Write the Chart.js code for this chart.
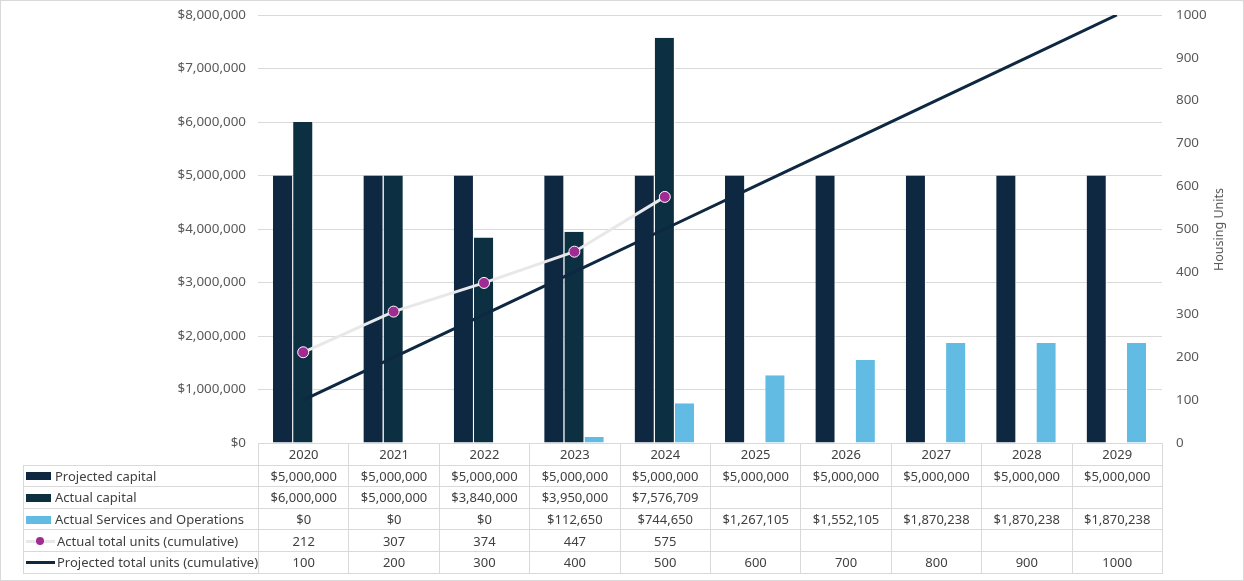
<!DOCTYPE html>
<html>
<head>
<meta charset="utf-8">
<script src="https://cdn.jsdelivr.net/npm/chart.js@4/dist/chart.umd.min.js"></script>
<style>
  html, body { margin:0; padding:0; background:#fff; }
  #wrap { position:relative; width:1244px; height:581px; overflow:hidden; font-family:"Noto Sans", sans-serif; }
  #frame { position:absolute; left:0; top:0; width:1242px; height:579px; border:1px solid #D9D9D9; pointer-events:none; }
  canvas { position:absolute; left:0; top:0; }
  #ytitle { position:absolute; font-size:12.5px; color:#595959; white-space:nowrap; transform-origin:center center; }
  table { position:absolute; border-collapse:collapse; font-size:13px; color:#404040; table-layout:fixed; }
  td { border:1px solid #D9D9D9; height:20.6px; padding:0; text-align:center; white-space:nowrap; overflow:hidden; }
  td.lab { text-align:left; padding-left:2px; }
  td.blank { border:none; }
  .sw { display:inline-block; width:25px; height:8px; vertical-align:middle; margin-right:4px; position:relative; top:-1px; }
  .ln { display:inline-block; width:29px; height:3px; vertical-align:middle; margin-right:2px; position:relative; top:-1px; }
  .dot { position:absolute; left:10px; top:-2.5px; width:8px; height:8px; border-radius:50%; background:#A02B93; }
</style>
</head>
<body>
<div id="wrap">
  <canvas id="c" width="1244" height="581"></canvas>
  <div id="ytitle">Housing Units</div>
  <table id="tbl"></table>
  <div id="frame"></div>
</div>
<script>
const categories = ["2020","2021","2022","2023","2024","2025","2026","2027","2028","2029"];
const projectedCapital = [5000000,5000000,5000000,5000000,5000000,5000000,5000000,5000000,5000000,5000000];
const actualCapital = [6000000,5000000,3840000,3950000,7576709,null,null,null,null,null];
const actualServices = [0,0,0,112650,744650,1267105,1552105,1870238,1870238,1870238];
const actualUnits = [212,307,374,447,575,null,null,null,null,null];
const projectedUnits = [100,200,300,400,500,600,700,800,900,1000];
const leftTicks = [0,1000000,2000000,3000000,4000000,5000000,6000000,7000000,8000000];
const rightTicks = [0,100,200,300,400,500,600,700,800,900,1000];

const C_PROJ = "#0E2841", C_ACT = "#0C3042", C_SVC = "#62BBE3", C_AUNITS = "#E8E8E8", C_MARK = "#A02B93";

const money = v => "$" + Math.round(v).toLocaleString("en-US");

const ctx = document.getElementById("c").getContext("2d");
const font = { family: "'Noto Sans', sans-serif", size: 13.4 };

const chart = new Chart(ctx, {
  data: {
    labels: categories,
    datasets: [
      { type:"line", label:"Actual total units (cumulative)", data: actualUnits, yAxisID:"y1",
        borderColor:C_AUNITS, borderWidth:3, pointRadius:5.5, pointBackgroundColor:C_MARK,
        pointBorderColor:"#ffffff", pointBorderWidth:1, order:0, spanGaps:false },
      { type:"line", label:"Projected total units (cumulative)", data: projectedUnits, yAxisID:"y1",
        borderColor:C_PROJ, borderWidth:3, pointRadius:0, order:1 },
      { type:"bar", label:"Projected capital", data: projectedCapital, yAxisID:"y",
        backgroundColor:C_PROJ, borderColor:"#ffffff", borderWidth:{left:0,right:1,top:0,bottom:0}, borderSkipped:false, order:2 },
      { type:"bar", label:"Actual capital", data: actualCapital, yAxisID:"y",
        backgroundColor:C_ACT, borderColor:"#ffffff", borderWidth:{left:0,right:1,top:0,bottom:0}, borderSkipped:false, order:3 },
      { type:"bar", label:"Actual Services and Operations", data: actualServices, yAxisID:"y",
        backgroundColor:C_SVC, borderColor:"#ffffff", borderWidth:{left:0,right:1,top:0,bottom:0}, borderSkipped:false, order:4 }
    ]
  },
  options: {
    responsive:false,
    animation:false,
    devicePixelRatio:1,
    layout:{ padding:{ top:15, bottom:138, left:0, right:0 } },
    datasets:{ bar:{ barPercentage:1.0, categoryPercentage:0.668 } },
    plugins:{ legend:{ display:false }, tooltip:{ enabled:false } },
    scales:{
      x:{ display:false, offset:true, grid:{ display:false } },
      y:{ position:"left", min:0, max:8000000,
          afterBuildTicks: s => { s.ticks = leftTicks.map(v => ({ value:v })); },
          afterFit: s => { s.width = 258; },
          border:{ display:false },
          grid:{ color:"#D9D9D9", lineWidth:1, drawTicks:true, tickLength:12, tickColor:"rgba(0,0,0,0)" },
          ticks:{ padding:0, color:"#595959", font, callback: v => money(v) } },
      y1:{ position:"right", min:0, max:1000,
          afterBuildTicks: s => { s.ticks = rightTicks.map(v => ({ value:v })); },
          afterFit: s => { s.width = 82; },
          border:{ display:false },
          grid:{ display:true, drawOnChartArea:false, drawTicks:true, tickLength:14, tickColor:"rgba(0,0,0,0)" },
          ticks:{ padding:0, color:"#595959", font, callback: v => String(v) } }
    }
  }
});

// Build data table from arrays aligned with the chart area
(function buildTable(){
  const ca = chart.chartArea;
  const tbl = document.getElementById("tbl");
  const labW = ca.left - 23;
  const colW = (ca.right - ca.left) / categories.length;
  tbl.style.left = "23px";
  tbl.style.top = ca.bottom + "px";
  tbl.style.width = (labW + colW * categories.length) + "px";
  let html = '<colgroup><col style="width:' + labW + 'px">';
  categories.forEach(() => html += '<col style="width:' + colW + 'px">');
  html += '</colgroup>';
  html += '<tr><td class="blank"></td>' + categories.map(c => '<td>' + c + '</td>').join('') + '</tr>';
  const rows = [
    { name:"Projected capital", icon:'<span class="sw" style="background:' + C_PROJ + '"></span>', vals: projectedCapital, fmt: money },
    { name:"Actual capital", icon:'<span class="sw" style="background:' + C_ACT + '"></span>', vals: actualCapital, fmt: money },
    { name:"Actual Services and Operations", icon:'<span class="sw" style="background:' + C_SVC + '"></span>', vals: actualServices, fmt: money },
    { name:"Actual total units (cumulative)", icon:'<span class="ln" style="background:' + C_AUNITS + '"><span class="dot"></span></span>', vals: actualUnits, fmt: v => String(v) },
    { name:"Projected total units (cumulative)", icon:'<span class="ln" style="background:' + C_PROJ + '"></span>', vals: projectedUnits, fmt: v => String(v) }
  ];
  rows.forEach(r => {
    html += '<tr><td class="lab">' + r.icon + r.name + '</td>' +
      r.vals.map(v => '<td>' + (v === null ? '' : r.fmt(v)) + '</td>').join('') + '</tr>';
  });
  tbl.innerHTML = html;

  const t = document.getElementById("ytitle");
  const w = t.offsetWidth, h = t.offsetHeight;
  const cx = 1218, cy = (ca.top + ca.bottom) / 2;
  t.style.left = (cx - w / 2) + "px";
  t.style.top = (cy - h / 2) + "px";
  t.style.transform = "rotate(-90deg)";
})();
</script>
</body>
</html>
